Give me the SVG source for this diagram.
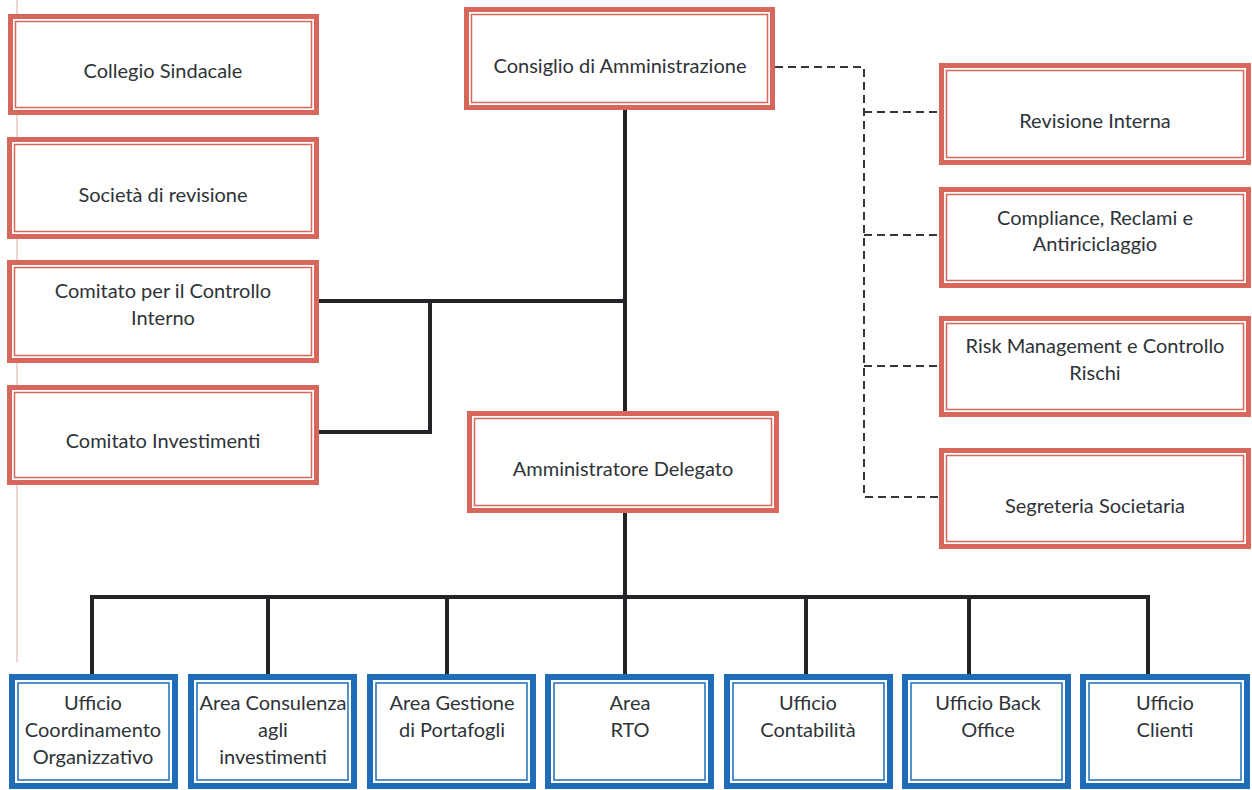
<svg xmlns="http://www.w3.org/2000/svg" width="1252" height="790" viewBox="0 0 1252 790">
<style>
  .bg { fill: #ffffff; }
  .ro { fill: #ffffff; stroke: #d6675a; stroke-width: 5; }
  .ri { fill: none; stroke: #d6675a; stroke-width: 1.5; }
  .bo { fill: #ffffff; stroke: #1f6cb8; stroke-width: 6; }
  .bi { fill: none; stroke: #1f6cb8; stroke-width: 1.5; }
  text { font-family: Lato, "Liberation Sans", sans-serif; font-size: 20px; fill: #2e3338; text-anchor: middle; dominant-baseline: central; }
  .solid { fill: none; stroke: #222428; stroke-width: 4; }
  .dash { fill: none; stroke: #33363a; stroke-width: 2; stroke-dasharray: 8 5; }
  .margin { stroke: #dba8a4; stroke-width: 1; }
</style>
<rect class="bg" x="0" y="0" width="1252" height="790"/>
<line class="margin" x1="17" y1="0" x2="17" y2="662"/>

<g id="connectors">
  <polyline class="solid" points="625,110 625,411"/>
  <polyline class="solid" points="319,301 625,301"/>
  <polyline class="solid" points="430,301 430,432 319,432"/>
  <polyline class="solid" points="625,513 625,597"/>
  <polyline class="solid" points="90,597 1150,597"/>
  <polyline class="solid" points="92,597 92,674"/>
  <polyline class="solid" points="268,597 268,674"/>
  <polyline class="solid" points="447,597 447,674"/>
  <polyline class="solid" points="625,597 625,674"/>
  <polyline class="solid" points="806,597 806,674"/>
  <polyline class="solid" points="969,597 969,674"/>
  <polyline class="solid" points="1148,597 1148,674"/>
  <polyline class="dash" points="775,67 864,67 864,497 939,497"/>
  <polyline class="dash" points="864,112 939,112"/>
  <polyline class="dash" points="864,235 939,235"/>
  <polyline class="dash" points="864,366 939,366"/>
</g>

<g id="collegio-sindacale">
  <rect class="ro" x="10.5" y="16.5" width="306" height="96"/>
  <rect class="ri" x="15.5" y="21.5" width="296" height="86"/>
  <text x="163" y="70">Collegio Sindacale</text>
</g>
<g id="societa-revisione">
  <rect class="ro" x="9.5" y="139.5" width="307" height="97"/>
  <rect class="ri" x="14.5" y="144.5" width="297" height="87"/>
  <text x="163" y="194">Società di revisione</text>
</g>
<g id="comitato-controllo">
  <rect class="ro" x="9.5" y="262.5" width="307" height="98"/>
  <rect class="ri" x="14.5" y="267.5" width="297" height="88"/>
  <text x="163" y="290">Comitato per il Controllo</text>
  <text x="163" y="317">Interno</text>
</g>
<g id="comitato-investimenti">
  <rect class="ro" x="9.5" y="387.5" width="307" height="95"/>
  <rect class="ri" x="14.5" y="392.5" width="297" height="85"/>
  <text x="163" y="440">Comitato Investimenti</text>
</g>
<g id="consiglio">
  <rect class="ro" x="466.5" y="9.5" width="306" height="98"/>
  <rect class="ri" x="471.5" y="14.5" width="296" height="88"/>
  <text x="620" y="65">Consiglio di Amministrazione</text>
</g>
<g id="amministratore">
  <rect class="ro" x="469.5" y="413.5" width="307" height="97"/>
  <rect class="ri" x="474.5" y="418.5" width="297" height="87"/>
  <text x="623" y="468">Amministratore Delegato</text>
</g>
<g id="revisione-interna">
  <rect class="ro" x="941.5" y="65.5" width="307" height="97"/>
  <rect class="ri" x="946.5" y="70.5" width="297" height="87"/>
  <text x="1095" y="120">Revisione Interna</text>
</g>
<g id="compliance">
  <rect class="ro" x="941.5" y="189.5" width="307" height="96"/>
  <rect class="ri" x="946.5" y="194.5" width="297" height="86"/>
  <text x="1095" y="217">Compliance, Reclami e</text>
  <text x="1095" y="243">Antiriciclaggio</text>
</g>
<g id="risk-management">
  <rect class="ro" x="941.5" y="318.5" width="307" height="96"/>
  <rect class="ri" x="946.5" y="323.5" width="297" height="86"/>
  <text x="1095" y="345">Risk Management e Controllo</text>
  <text x="1095" y="372">Rischi</text>
</g>
<g id="segreteria">
  <rect class="ro" x="941.5" y="450.5" width="307" height="96"/>
  <rect class="ri" x="946.5" y="455.5" width="297" height="86"/>
  <text x="1095" y="505">Segreteria Societaria</text>
</g>

<g id="ufficio-coordinamento">
  <rect class="bo" x="12" y="677" width="163" height="109"/>
  <rect class="bi" x="18" y="683" width="151" height="97"/>
  <text x="93" y="702">Ufficio</text>
  <text x="93" y="729">Coordinamento</text>
  <text x="93" y="756">Organizzativo</text>
</g>
<g id="area-consulenza">
  <rect class="bo" x="191" y="677" width="163" height="109"/>
  <rect class="bi" x="197" y="683" width="151" height="97"/>
  <text x="273" y="702">Area Consulenza</text>
  <text x="273" y="729">agli</text>
  <text x="273" y="756">investimenti</text>
</g>
<g id="area-gestione">
  <rect class="bo" x="370" y="677" width="163" height="109"/>
  <rect class="bi" x="376" y="683" width="151" height="97"/>
  <text x="452" y="702">Area Gestione</text>
  <text x="452" y="729">di Portafogli</text>
</g>
<g id="area-rto">
  <rect class="bo" x="548" y="677" width="163" height="109"/>
  <rect class="bi" x="554" y="683" width="151" height="97"/>
  <text x="630" y="702">Area</text>
  <text x="630" y="729">RTO</text>
</g>
<g id="ufficio-contabilita">
  <rect class="bo" x="727" y="677" width="163" height="109"/>
  <rect class="bi" x="733" y="683" width="151" height="97"/>
  <text x="808" y="702">Ufficio</text>
  <text x="808" y="729">Contabilità</text>
</g>
<g id="ufficio-back-office">
  <rect class="bo" x="905" y="677" width="163" height="109"/>
  <rect class="bi" x="911" y="683" width="151" height="97"/>
  <text x="988" y="702">Ufficio Back</text>
  <text x="988" y="729">Office</text>
</g>
<g id="ufficio-clienti">
  <rect class="bo" x="1083" y="677" width="164" height="109"/>
  <rect class="bi" x="1089" y="683" width="152" height="97"/>
  <text x="1165" y="702">Ufficio</text>
  <text x="1165" y="729">Clienti</text>
</g>
</svg>
